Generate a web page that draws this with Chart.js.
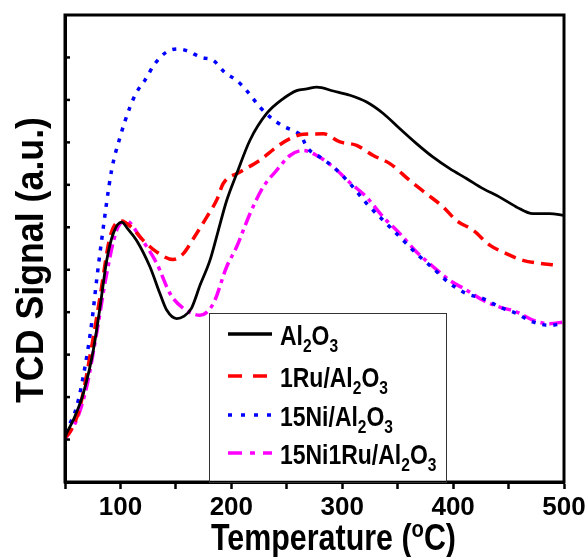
<!DOCTYPE html>
<html>
<head>
<meta charset="utf-8">
<script src="https://cdn.jsdelivr.net/npm/chart.js@4.4.1/dist/chart.umd.min.js"></script>
<style>
  html, body { margin: 0; padding: 0; background: #fff; }
  #wrap { width: 586px; height: 557px; position: relative; }
</style>
</head>
<body>
<div id="wrap"><canvas id="tpr"></canvas></div>
<script>
// H2-TPR profiles, values (arbitrary units)
const alT = [50, 51.5, 57.5, 66.5, 75.5, 81.6, 87.6, 93.6, 101, 107, 114.6, 126.6, 135.6, 141.7, 150.7, 157, 164, 172, 180.7, 188, 195.8, 204.8, 216.8, 231.9, 246.8, 258.9, 268, 277, 292, 307, 322, 337, 352, 367, 382, 397, 412, 427, 442, 457, 472, 487, 500];
const alV = [1.05, 1.15, 1.46, 2.09, 3.1, 4.12, 5.22, 5.86, 6.12, 5.95, 5.69, 5.07, 4.44, 4.05, 3.85, 3.9, 4.09, 4.65, 5.22, 5.9, 6.63, 7.26, 8.05, 8.68, 9.03, 9.22, 9.26, 9.3, 9.21, 9.11, 8.95, 8.68, 8.32, 7.97, 7.65, 7.38, 7.15, 6.91, 6.71, 6.48, 6.32, 6.32, 6.28];

const ruT = [50, 55, 63.5, 74, 81.6, 90.6, 101, 110, 120.6, 132.6, 147.6, 156.7, 165.7, 177.8, 186.8, 192.7, 207.8, 225.8, 240.8, 252.9, 264.8, 283, 298, 313, 328, 343, 361, 376, 391, 403, 418, 433, 448, 463, 478, 492];
const ruV = [1.05, 1.2, 1.77, 3.18, 4.36, 5.77, 6.15, 6.0, 5.69, 5.42, 5.24, 5.38, 5.73, 6.24, 6.64, 7.03, 7.3, 7.58, 7.89, 8.09, 8.19, 8.2, 8.01, 7.93, 7.69, 7.5, 7.1, 6.79, 6.48, 6.16, 5.93, 5.58, 5.38, 5.22, 5.15, 5.11];

const niT = [50, 53, 60.5, 68, 74, 78.5, 83, 92, 99.6, 108.6, 114.6, 122, 131, 141.7, 152, 159.7, 173, 183.7, 194, 204.8, 213.8, 225.8, 234.8, 246.8, 258.9, 263, 268, 280, 292, 307, 322, 337, 352, 367, 382, 397, 412, 427, 442, 457, 472, 487, 500];
const niV = [1.15, 1.3, 1.77, 2.71, 3.73, 4.75, 5.69, 7.34, 8.12, 8.83, 9.18, 9.46, 9.85, 10.13, 10.2, 10.16, 10.0, 9.93, 9.65, 9.46, 9.22, 8.83, 8.6, 8.38, 8.24, 8.16, 7.89, 7.65, 7.42, 7.03, 6.56, 6.16, 5.77, 5.38, 5.03, 4.68, 4.44, 4.32, 4.12, 3.97, 3.77, 3.69, 3.73];

const niruT = [50, 51.5, 60.5, 69.5, 78.5, 87.6, 96.6, 105.5, 117.6, 132.7, 144.7, 156.7, 171.7, 183.7, 195.8, 204.8, 216.8, 228.8, 240.8, 252.9, 264.8, 277, 292, 307, 322, 337, 352, 367, 382, 397, 412, 427, 442, 457, 472, 487, 500];
const niruV = [1.0, 1.07, 1.46, 2.24, 3.5, 4.91, 5.93, 6.15, 5.77, 5.15, 4.44, 4.09, 3.93, 4.2, 5.07, 5.54, 6.32, 6.95, 7.34, 7.69, 7.81, 7.69, 7.42, 7.05, 6.71, 6.24, 5.85, 5.42, 5.07, 4.75, 4.52, 4.28, 4.12, 4.01, 3.81, 3.73, 3.77];

const seriesNames = ['Al_2O_3', '1Ru/Al_2O_3', '15Ni/Al_2O_3', '15Ni1Ru/Al_2O_3'];
const xLabels = [100, 200, 300, 400, 500];
const yTicks = [1, 2, 3, 4, 5, 6, 7, 8, 9, 10];

const colors = ['#000000', '#ff0000', '#0000ff', '#ff00ff'];
const plotDash = [[], [12, 7], [4, 7], [13, 5, 4, 5]];
const keyDash = [[], [14, 11], [4, 9], [14, 8, 5, 8]];
const FONT = '"Liberation Sans", Arial, sans-serif';

function pts(t, v) {
  return t.map((x, i) => ({ x: x, y: v[i] }));
}

// split "Al_2O_3" into [text, sub] pieces
function parts(s) {
  let out = [];
  let buf = '';
  for (let i = 0; i < s.length; i++) {
    if (s[i] == '_') {
      if (buf) out.push([buf, 0]);
      buf = '';
      out.push([s[i + 1], 1]);
      i++;
    } else {
      buf += s[i];
    }
  }
  if (buf) out.push([buf, 0]);
  return out;
}

// draws pieces, mode 1 = subscript, 2 = superscript; squeezes to width w if given
function richText(ctx, pieces, x, y, size, sx, w) {
  ctx.save();
  let total = 0;
  pieces.forEach(p => {
    ctx.font = 'bold ' + (p[1] ? Math.round(size * 0.68) : size) + 'px ' + FONT;
    total += ctx.measureText(p[0]).width;
  });
  if (w) sx = w / total;
  ctx.translate(x, y);
  ctx.scale(sx, 1);
  ctx.fillStyle = '#000';
  ctx.textBaseline = 'alphabetic';
  let cx = 0;
  pieces.forEach(p => {
    ctx.font = 'bold ' + (p[1] ? Math.round(size * 0.68) : size) + 'px ' + FONT;
    let dy = p[1] == 1 ? size * 0.26 : (p[1] == 2 ? -size * 0.36 : 0);
    ctx.fillText(p[0], cx, dy);
    cx += ctx.measureText(p[0]).width;
  });
  ctx.restore();
}

const decor = {
  id: 'decor',
  afterDraw(chart) {
    const ctx = chart.ctx;
    const a = chart.chartArea;
    const ys = chart.scales.y;

    // inward ticks on the left axis
    ctx.save();
    ctx.strokeStyle = '#000';
    ctx.lineWidth = 2.5;
    yTicks.forEach(v => {
      const py = ys.getPixelForValue(v);
      ctx.beginPath();
      ctx.moveTo(a.left, py);
      ctx.lineTo(a.left + 5, py);
      ctx.stroke();
    });

    // frame
    ctx.lineWidth = 3;
    ctx.strokeRect(a.left, a.top, a.right - a.left, a.bottom - a.top);
    ctx.restore();

    // legend box
    ctx.save();
    const bx = 209, by = 313, bw = 237;
    ctx.fillStyle = '#fff';
    ctx.fillRect(bx, by, bw, a.bottom - by - 1.5);
    ctx.strokeStyle = '#333';
    ctx.lineWidth = 1;
    ctx.strokeRect(bx + 0.5, by + 0.5, bw, a.bottom - by);
    const rowY = [334, 376, 415, 453];
    seriesNames.forEach((name, i) => {
      ctx.strokeStyle = colors[i];
      ctx.lineWidth = 3.5;
      ctx.setLineDash(keyDash[i]);
      ctx.beginPath();
      ctx.moveTo(228, rowY[i]);
      ctx.lineTo(272, rowY[i]);
      ctx.stroke();
      ctx.setLineDash([]);
      richText(ctx, parts(name), 280, rowY[i] + 11, 28, 0.82);
    });
    ctx.restore();

    // axis titles
    richText(ctx, [['Temperature (', 0], ['o', 2], ['C)', 0]], 211, 550, 36, 1, 245);
    ctx.save();
    ctx.translate(43, 403);
    ctx.rotate(-Math.PI / 2);
    richText(ctx, [['TCD Signal (a.u.)', 0]], 0, 0, 38, 1, 286);
    ctx.restore();
  }
};

new Chart(document.getElementById('tpr'), {
  type: 'line',
  data: {
    datasets: [
      { label: seriesNames[0], data: pts(alT, alV) },
      { label: seriesNames[1], data: pts(ruT, ruV) },
      { label: seriesNames[2], data: pts(niT, niV) },
      { label: seriesNames[3], data: pts(niruT, niruV) }
    ].map((d, i) => Object.assign(d, {
      borderColor: colors[i],
      borderWidth: i == 0 ? 2.8 : 3.5,
      borderDash: plotDash[i],
      pointRadius: 0,
      fill: false,
      cubicInterpolationMode: 'monotone'
    }))
  },
  options: {
    responsive: true,
    maintainAspectRatio: false,
    animation: false,
    layout: { padding: { top: 15, right: 22, left: 0, bottom: 0 } },
    plugins: { legend: { display: false }, tooltip: { enabled: false } },
    scales: {
      x: {
        type: 'linear',
        min: 50,
        max: 500,
        afterFit: s => { s.height = 75; s.paddingLeft = 0; s.paddingRight = 0; },
        border: { display: true, color: '#000', width: 3 },
        grid: { drawOnChartArea: false, drawTicks: true, tickLength: 7, tickWidth: 2.5, tickColor: '#000' },
        ticks: {
          stepSize: 50,
          autoSkip: false,
          maxRotation: 0,
          padding: 3,
          color: '#000',
          font: { family: FONT, size: 26, weight: 'bold' },
          callback: v => xLabels.includes(v) ? String(v) : ''
        }
      },
      y: {
        min: 0,
        max: 11,
        afterFit: s => { s.width = 65; s.paddingTop = 0; s.paddingBottom = 0; },
        border: { display: true, color: '#000', width: 3 },
        grid: { display: false },
        ticks: { display: false, stepSize: 1 }
      }
    }
  },
  plugins: [decor]
});
</script>
</body>
</html>
